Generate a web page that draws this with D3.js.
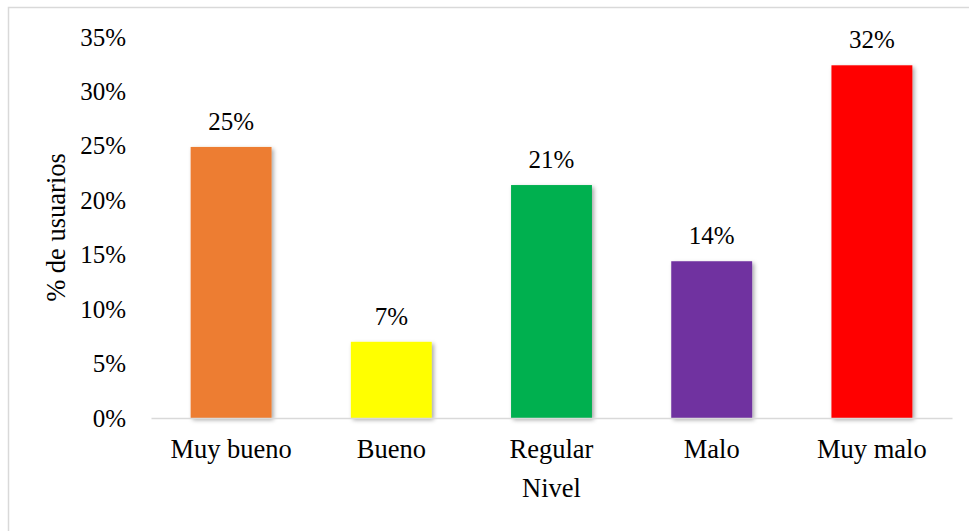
<!DOCTYPE html>
<html>
<head>
<meta charset="utf-8">
<script src="https://cdn.jsdelivr.net/npm/d3@7"></script>
<style>
  html, body { margin: 0; padding: 0; background: #fff; }
  svg text { font-family: "Liberation Serif", "Times New Roman", serif; fill: #000; }
</style>
</head>
<body>
<svg id="chart" width="969" height="531"></svg>
<script>
// Distribución de usuarios por nivel de valoración
const categories = ["Muy bueno", "Bueno", "Regular", "Malo", "Muy malo"];
const shares = [0.249, 0.07, 0.214, 0.144, 0.324];
const colors = ["#ED7D31", "#FFFF00", "#00B050", "#7030A0", "#FF0000"];
const yTicks = [0, 0.05, 0.10, 0.15, 0.20, 0.25, 0.30, 0.35];

const W = 969, H = 531;
const margin = { top: 37, right: 17, bottom: 113, left: 151 };
const svg = d3.select("#chart");

// soft shadow under the columns
const defs = svg.append("defs");
const f = defs.append("filter").attr("id", "shadow")
  .attr("x", "-20%").attr("y", "-20%").attr("width", "140%").attr("height", "140%");
f.append("feDropShadow").attr("dx", 2).attr("dy", 2).attr("stdDeviation", 2)
  .attr("flood-color", "#000").attr("flood-opacity", 0.35);

// frame (left and top edges)
svg.append("path")
  .attr("d", `M8.5,${H} V7.5 H${W}`)
  .attr("fill", "none").attr("stroke", "#d9d9d9").attr("stroke-width", 1.5);

const x = d3.scaleBand()
  .domain(categories)
  .range([margin.left, W - margin.right])
  .paddingInner(0.495).paddingOuter(0.2475);

const y = d3.scaleLinear()
  .domain([0, 0.35])
  .range([H - margin.bottom, margin.top]);

const fmt = d3.format(".0%");

// y axis: labels only
const yAxis = svg.append("g")
  .attr("transform", `translate(${margin.left},0)`)
  .call(d3.axisLeft(y).tickValues(yTicks).tickFormat(fmt).tickSize(0).tickPadding(25));
yAxis.select(".domain").remove();
yAxis.selectAll("text").attr("font-size", 25);

// columns
svg.append("g").selectAll("rect")
  .data(shares)
  .join("rect")
  .attr("x", (d, i) => x(categories[i]))
  .attr("y", d => y(d))
  .attr("width", x.bandwidth())
  .attr("height", d => y(0) - y(d))
  .attr("fill", (d, i) => colors[i])
  .attr("filter", "url(#shadow)");

// x axis baseline and category labels
const xAxis = svg.append("g")
  .attr("transform", `translate(0,${y(0)})`)
  .call(d3.axisBottom(x).tickSize(0).tickPadding(21));
xAxis.select(".domain").attr("stroke", "#d9d9d9").attr("stroke-width", 1.5);
xAxis.selectAll("text").attr("font-size", 26.5);

// value labels
svg.append("g").selectAll("text")
  .data(shares)
  .join("text")
  .attr("x", (d, i) => x(categories[i]) + x.bandwidth() / 2)
  .attr("y", d => y(d) - 17)
  .attr("text-anchor", "middle")
  .attr("font-size", 25)
  .text(d => fmt(d));

// axis titles
svg.append("text")
  .attr("x", (x.range()[0] + x.range()[1]) / 2)
  .attr("y", 497)
  .attr("text-anchor", "middle")
  .attr("font-size", 26.5)
  .text("Nivel");

svg.append("text")
  .attr("transform", `translate(65,${(y(0) + y(0.35)) / 2}) rotate(-90)`)
  .attr("text-anchor", "middle")
  .attr("font-size", 26.5)
  .text("% de usuarios");
</script>
</body>
</html>
